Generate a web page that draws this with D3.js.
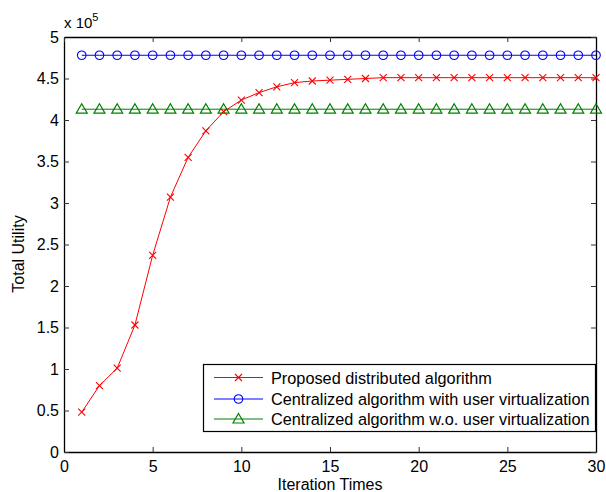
<!DOCTYPE html>
<html>
<head>
<meta charset="utf-8">
<script src="https://cdn.jsdelivr.net/npm/d3@7"></script>
<style>
  html, body { margin: 0; padding: 0; background: #fff; }
  svg { display: block; font-family: "Liberation Sans", Arial, sans-serif; }
</style>
</head>
<body>
<svg id="chart" width="606" height="492"></svg>
<script>
// Iterations 1..30
const iterations = d3.range(1, 31);

// Total utility (×10^5)
const proposedDistributed = [
  0.48, 0.80, 1.01, 1.53, 2.37, 3.07, 3.55, 3.87, 4.10, 4.24,
  4.33, 4.40, 4.45, 4.47, 4.48, 4.49, 4.50, 4.51, 4.51, 4.51,
  4.51, 4.51, 4.51, 4.51, 4.51, 4.51, 4.51, 4.51, 4.51, 4.51
];
const centralizedWith = iterations.map(() => 4.78);
const centralizedWithout = iterations.map(() => 4.13);

const xTicks = [0, 5, 10, 15, 20, 25, 30];
const yTicks = [0, 0.5, 1, 1.5, 2, 2.5, 3, 3.5, 4, 4.5, 5];

const seriesNames = [
  "Proposed distributed algorithm",
  "Centralized algorithm with user virtualization",
  "Centralized algorithm w.o. user virtualization"
];
const seriesColors = ["#ff0000", "#0000ff", "#008000"];
const seriesMarkers = ["cross", "circle", "triangle"];

const svg = d3.select("#chart");
const plotLeft = 64, plotTop = 37, plotRight = 596, plotBottom = 452;

const x = d3.scaleLinear().domain([0, 30]).range([plotLeft, plotRight]);
const y = d3.scaleLinear().domain([0, 5]).range([plotBottom, plotTop]);

const tickLen = 5;
const fontSize = 16;

// axes: bottom/left labelled, top/right as plain box with inward ticks
const xAxis = d3.axisBottom(x).tickValues(xTicks).tickSizeInner(-tickLen).tickSizeOuter(0).tickPadding(9);
const yAxis = d3.axisLeft(y).tickValues(yTicks).tickSizeInner(-tickLen).tickSizeOuter(0).tickPadding(5)
  .tickFormat(d3.format("~g"));
const xAxisTop = d3.axisTop(x).tickValues(xTicks).tickSizeInner(-tickLen).tickSizeOuter(0).tickFormat("");
const yAxisRight = d3.axisRight(y).tickValues(yTicks).tickSizeInner(-tickLen).tickSizeOuter(0).tickFormat("");

function styleAxis(g) {
  g.select(".domain").attr("stroke", "#000").attr("stroke-width", 1.3);
  g.selectAll(".tick line").attr("stroke", "#333").attr("stroke-width", 1);
  g.selectAll(".tick text").attr("fill", "#000").style("font-size", fontSize + "px")
    .style("font-family", "Liberation Sans, Arial, sans-serif");
}

svg.append("g").attr("transform", `translate(0,${y(0)})`).call(xAxis).call(styleAxis);
svg.append("g").attr("transform", `translate(${x(0)},0)`).call(yAxis).call(styleAxis);
svg.append("g").attr("transform", `translate(0,${y(5)})`).call(xAxisTop).call(styleAxis);
svg.append("g").attr("transform", `translate(${x(30)},0)`).call(yAxisRight).call(styleAxis);

// exponent label
const expo = svg.append("text").attr("x", 64).attr("y", 28)
  .style("font-size", "15px").attr("fill", "#000");
expo.append("tspan").text("x 10");
expo.append("tspan").attr("dy", -7).style("font-size", "11px").text("5");

// axis titles
svg.append("text").attr("x", x(15)).attr("y", 490).attr("text-anchor", "middle")
  .style("font-size", fontSize + "px").text("Iteration Times");
svg.append("text").attr("transform", `translate(24,254) rotate(-90)`)
  .attr("text-anchor", "middle").style("font-size", fontSize + "px").text("Total Utility");

// marker drawing
function drawMarker(g, type, color) {
  if (type === "cross") {
    const s = 3.5;
    g.append("path").attr("d", `M${-s},${-s}L${s},${s}M${-s},${s}L${s},${-s}`)
      .attr("stroke", color).attr("stroke-width", 1.1).attr("fill", "none");
  } else if (type === "circle") {
    g.append("circle").attr("r", 4.3).attr("fill", "none").attr("stroke", color).attr("stroke-width", 1.1);
  } else {
    g.append("path").attr("d", "M0,-5.5L5.5,4L-5.5,4Z")
      .attr("fill", "none").attr("stroke", color).attr("stroke-width", 1.2);
  }
}

const seriesData = [proposedDistributed, centralizedWith, centralizedWithout];
const line = d3.line().x(d => x(d[0])).y(d => y(d[1]));
const plot = svg.append("g");

seriesData.forEach((vals, i) => {
  const pts = iterations.map((it, k) => [it, vals[k]]);
  plot.append("path").datum(pts).attr("d", line)
    .attr("fill", "none").attr("stroke", seriesColors[i]).attr("stroke-width", 1);
  pts.forEach(p => {
    const g = plot.append("g").attr("transform", `translate(${x(p[0])},${y(p[1])})`);
    drawMarker(g, seriesMarkers[i], seriesColors[i]);
  });
});

// legend
const legend = svg.append("g");
legend.append("rect").attr("x", 203.5).attr("y", 364.5).attr("width", 392).attr("height", 67)
  .attr("fill", "#fff").attr("stroke", "#000").attr("stroke-width", 1.2);
const rowY = [377.5, 399, 419];
seriesNames.forEach((name, i) => {
  legend.append("line").attr("x1", 214).attr("x2", 263).attr("y1", rowY[i]).attr("y2", rowY[i])
    .attr("stroke", seriesColors[i]).attr("stroke-width", 1);
  const g = legend.append("g").attr("transform", `translate(238.5,${rowY[i]})`);
  drawMarker(g, seriesMarkers[i], seriesColors[i]);
  legend.append("text").attr("x", 271).attr("y", rowY[i] + 6)
    .style("font-size", "16.3px").attr("fill", "#000").text(name);
});
</script>
</body>
</html>
